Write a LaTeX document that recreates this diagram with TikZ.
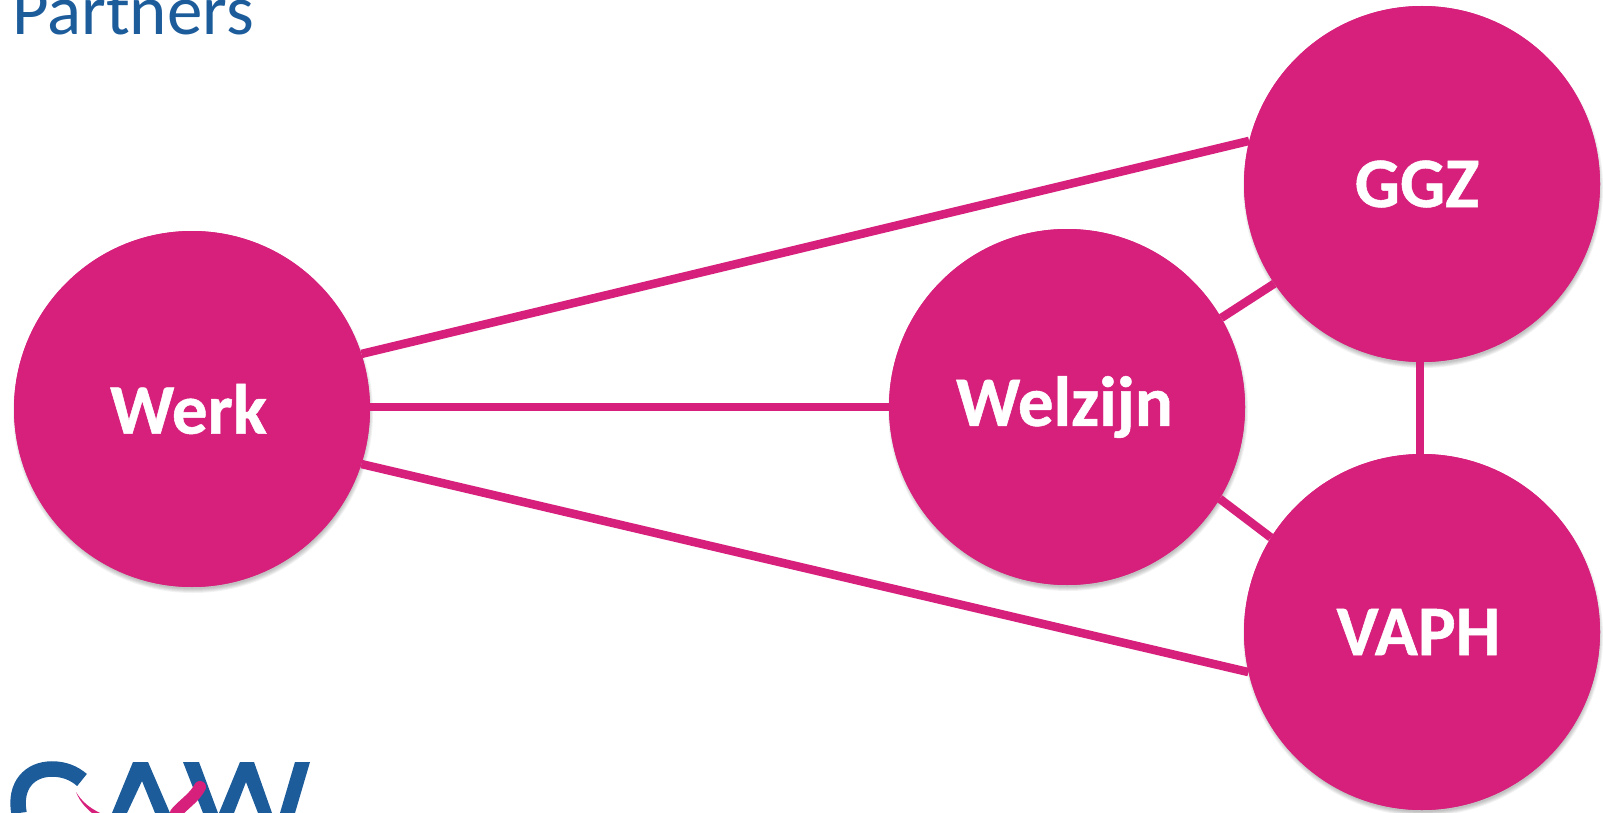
\documentclass[tikz,border=0pt]{standalone}
\usepackage{fontspec}
\setmainfont{Carlito}
\definecolor{pinkc}{HTML}{D7207C}
\definecolor{bluec}{HTML}{1C5C9B}
\tikzset{
  partner/.style={circle,fill=pinkc,draw=none,minimum size=356pt,inner sep=0pt,text=white,
    font=\fontsize{71}{71}\selectfont\bfseries\addfontfeature{FakeBold=0.7}},
  linkline/.style={draw=pinkc,line width=8.5pt},
  shade1/.style={fill=black,opacity=0.05,draw=none},
  logoblue/.style={fill=bluec,draw=none}
}
\newcommand{\softshadow}[2]{%
  \foreach \r in {180,179,178,177,176}{\fill[shade1] (#1+1,#2+4) circle (\r pt);}}
\begin{document}
\begin{tikzpicture}[x=1pt,y=-1pt]
\useasboundingbox (0,0) rectangle (1603,813);
\clip (0,0) rectangle (1603,813);
\fill[white] (0,0) rectangle (1603,813);
\node[anchor=base west,text=bluec,font=\fontsize{71}{71}\selectfont,inner sep=0pt] (title) at (12,35) {Partners};
% logo
\draw[bluec,line width=15.5pt] (19,813) .. controls (14,785) and (30,769) .. (52,769) .. controls (64,769) and (74,773) .. (82,780);
\fill[logoblue] (112,813)--(133,762)--(148,762)--(170,813)--(155,813)--(142,781)--(127,813)--cycle;
\fill[logoblue] (183,762)--(199,762)--(218,813)--(203,813)--cycle;
\fill[logoblue] (240,762)--(254,762)--(272,813)--(258,813)--(246,782)--(234,813)--(219,813)--cycle;
\fill[logoblue] (295,762)--(310,762)--(295,813)--(280,813)--cycle;
\fill[pinkc] (76,792) .. controls (82,802) and (90,808) .. (100,813) -- (92,813) .. controls (86,808) and (80,802) .. (76,792) -- cycle;
\draw[pinkc,line width=12pt,line cap=round] (200,787) .. controls (194,798) and (186,802) .. (176,813);
% shadows
\softshadow{192}{409}
\softshadow{1067}{407}
\softshadow{1422}{184}
\softshadow{1422}{632}
% named circles, which the connectors end on
\node[partner] (werk) at (192,409) {};
\node[partner] (welzijn) at (1067,407) {};
\node[partner] (ggz) at (1422,184) {};
\node[partner] (vaph) at (1422,632) {};
% connectors
\draw[linkline] (werk.18.5) -- (ggz.166);
\draw[linkline] (werk.-18.3) -- (vaph.-167.7);
\draw[linkline] (werk.east |- welzijn.west) -- (welzijn.west);
\draw[linkline] (welzijn.30.5) -- (ggz.-146.5);
\draw[linkline] (welzijn.-31.4) -- (vaph.148.4);
\draw[linkline] ([xshift=-2pt]ggz.south) -- ([xshift=-2pt]vaph.north);
% labels, on circles laid over the connector ends
\node[partner] at (192,409) {\hspace*{-7pt}Werk};
\node[partner] at (1067,407) {\hspace*{-5pt}Welzijn};
\node[partner] at (1422,184) {\hspace*{-10pt}GGZ};
\node[partner] at (1422,632) {\hspace*{-7pt}VAPH};
\end{tikzpicture}
\end{document}
